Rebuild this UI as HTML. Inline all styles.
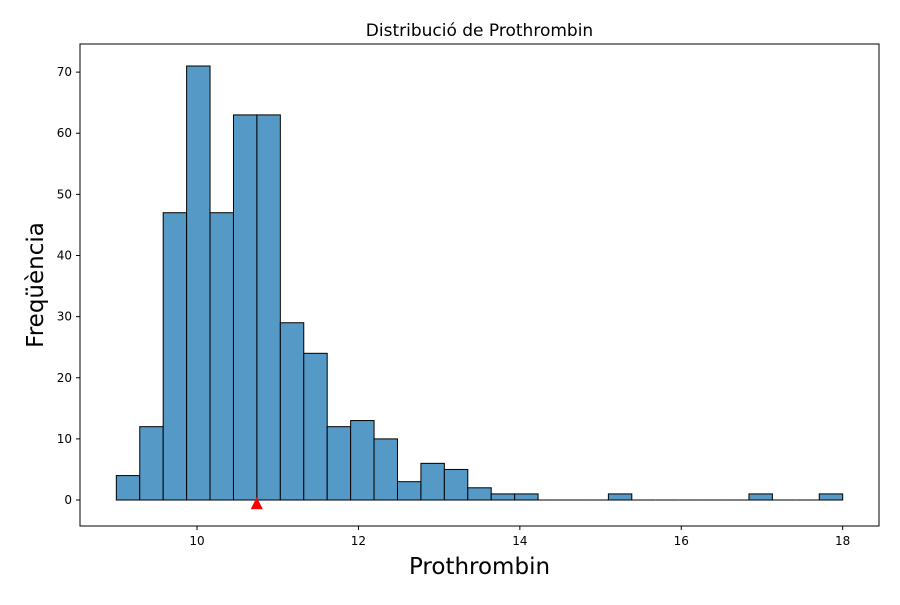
<!DOCTYPE html>
<html><head><meta charset="utf-8"><style>
body{margin:0;background:#fff;font-family:"Liberation Sans","DejaVu Sans",sans-serif;}
</style></head><body>
<svg id="chart" width="900" height="600" xmlns="http://www.w3.org/2000/svg" font-family="DejaVu Sans, Liberation Sans, sans-serif"></svg>
<script>
const binStart = 9, binEnd = 18;
const counts = [4,12,47,71,47,63,63,29,24,12,13,10,3,6,5,2,1,1,0,0,0,1,0,0,0,0,0,1,0,0,1];
const xTicks = [10,12,14,16,18];
const yTicks = [0,10,20,30,40,50,60,70];
const meanValue = 10.74;

const L=80,R=879,T=44,B=526;
const xmin=8.55,xmax=18.45,ymin=-4.25,ymax=74.6;
const xs=v=>L+(v-xmin)/(xmax-xmin)*(R-L);
const ys=v=>B-(v-ymin)/(ymax-ymin)*(B-T);
const svg=document.getElementById('chart');
const NS='http://www.w3.org/2000/svg';
function mk(tag,attrs,text){const e=document.createElementNS(NS,tag);for(const k in attrs)e.setAttribute(k,attrs[k]);if(text!==undefined)e.textContent=text;svg.appendChild(e);return e;}

const bw=(binEnd-binStart)/counts.length;
counts.forEach((c,i)=>{
  const x0=xs(binStart+i*bw),x1=xs(binStart+(i+1)*bw);
  if(c===0){
    const ln=mk('line',{x1:x0,x2:x1,y1:ys(0),y2:ys(0),stroke:'#000','stroke-width':1});
    
    
    return;
  }
  const r=mk('rect',{x:x0,y:ys(c),width:x1-x0,height:ys(0)-ys(c),fill:'#5599c7',stroke:'#000','stroke-width':1});
  
  
});
const mx=xs(meanValue),my=ys(-0.5);
const tri=mk('polygon',{points:`${mx-6},${my+6} ${mx+6},${my+6} ${mx},${my-6}`,fill:'#ff0000'});


const f=mk('rect',{x:L,y:T,width:R-L,height:B-T,fill:'none',stroke:'#000','stroke-width':1});


xTicks.forEach(v=>{
  const x=xs(v);
  mk('line',{x1:x,x2:x,y1:B,y2:B+4,stroke:'#000'});
  const t=mk('text',{x:x,y:B+19,'font-size':12,'text-anchor':'middle'},v);
  
  
});
yTicks.forEach(v=>{
  const y=ys(v);
  mk('line',{x1:L-4,x2:L,y1:y,y2:y,stroke:'#000'});
  const t=mk('text',{x:L-8,y:y+4,'font-size':12,'text-anchor':'end'},v);
  
  
});
const ti=mk('text',{x:(L+R)/2,y:36,'font-size':17,'text-anchor':'middle'},'Distribució de Prothrombin');


const xl=mk('text',{x:(L+R)/2,y:574,'font-size':23,'text-anchor':'middle'},'Prothrombin');


const yl=mk('text',{x:0,y:0,'font-size':23,'text-anchor':'middle',transform:`translate(43,${(T+B)/2}) rotate(-90)`},'Freqüència');


</script>
</body></html>
